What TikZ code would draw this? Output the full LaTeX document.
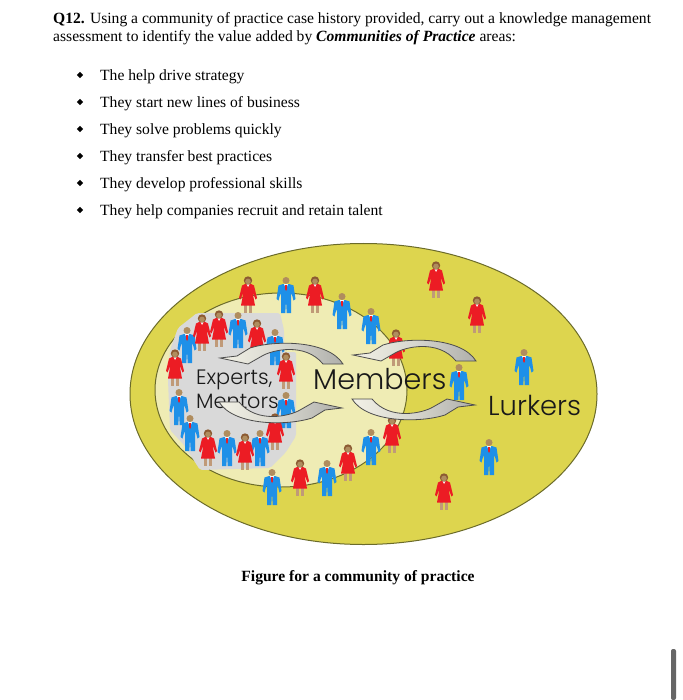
\documentclass[tikz,border=0pt]{standalone}
\usepackage{fontspec}
\usetikzlibrary{shapes.geometric}
\setmainfont{Liberation Serif}
\newfontfamily\gothic{Poppins Light}
\definecolor{outerfill}{HTML}{DDD54E}
\definecolor{innerfill}{HTML}{EFECB4}
\definecolor{ringline}{HTML}{6B6B2A}
\definecolor{graybox}{HTML}{D9D9D9}
\definecolor{manblue}{HTML}{1E90E8}
\definecolor{womanred}{HTML}{EC1C24}
\definecolor{skin}{HTML}{B08D5E}
\definecolor{hair}{HTML}{8C5A32}
\definecolor{legtan}{HTML}{C09A78}
\definecolor{arrowlight}{HTML}{F2F1E6}
\definecolor{arrowdark}{HTML}{AFAFAB}
\tikzset{
  x=1pt,y=-1pt,
  bodytext/.style={anchor=base west,inner sep=0pt,font=\fontsize{15.6}{17}\selectfont},
  bigtext/.style={anchor=base west,inner sep=0pt,text=black!90},
  bulletdot/.style={fill=black,diamond,inner sep=0pt,minimum size=6.5pt},
  flow/.style={draw=black!70,line width=0.8pt,left color=arrowlight,right color=arrowdark,middle color=arrowlight!60!arrowdark},
  man/.pic={
    \fill[manblue] (-3,-11) -- (3,-11) -- (7.5,-9.5) -- (9.5,4) -- (7.5,5.5) -- (5.5,-2) -- (5,1) -- (5,18) -- (0.7,18) -- (0,5) -- (-0.7,18) -- (-5,18) -- (-5,1) -- (-5.5,-2) -- (-7.5,5.5) -- (-9.5,4) -- (-7.5,-9.5) -- cycle;
    \fill[white] (-2,-11) -- (2,-11) -- (0,-6) -- cycle;
    \fill[womanred] (-0.8,-10) -- (0.8,-10) -- (1,-6) -- (0,-4) -- (-1,-6) -- cycle;
    \fill[skin] (0,-14.5) circle (3.5);
  },
  woman/.pic={
    \fill[legtan] (-4,8) rectangle (-1.2,18);
    \fill[legtan] (1.2,8) rectangle (4,18);
    \fill[womanred] (-3,-11) -- (3,-11) -- (6,-9.5) -- (9,3) -- (7.5,4.5) -- (4.5,-3) -- (7,10.5) -- (-7,10.5) -- (-4.5,-3) -- (-7.5,4.5) -- (-9,3) -- (-6,-9.5) -- cycle;
    \fill[white] (-1.5,-11) -- (1.5,-11) -- (0,-8) -- cycle;
    \fill[hair] (0,-14.5) circle (4.2);
    \fill[skin] (0,-13.6) circle (2.8);
  },
  flowarrow/.pic={
    \path[flow] (0,0) -- (28,6) -- (42,-2) .. controls (52,-8) and (85,-16) .. (103,6)
      -- (123,6) .. controls (108,-18) and (55,-18) .. (30,-10) -- (17,-2) -- cycle;
  }
}
\begin{document}
\begin{tikzpicture}
\useasboundingbox (0,0) rectangle (682,700);
\fill[white] (0,0) rectangle (682,700);
% text
\node[bodytext] (q1) at (53,24) {\textbf{Q12.} Using a community of practice case history provided, carry out a knowledge management};
\node[bodytext] (q2) at (53,42) {assessment to identify the value added by \textbf{\textit{Communities of Practice}} areas:};
\foreach \yy/\lbl in {75/The help drive strategy,102/They start new lines of business,129/They solve problems quickly,156/They transfer best practices,183/They develop professional skills,210/They help companies recruit and retain talent}{
  \node[bulletdot] at (80,\yy) {};
  \node[bodytext] at (100,\yy+6) {\lbl};
}
\node[bodytext,anchor=base,font=\fontsize{15.6}{17}\selectfont\bfseries] (cap) at (358,581) {Figure for a community of practice};
% ellipses
\draw[ringline,fill=outerfill,line width=1pt] (363.5,394) ellipse [x radius=233.5,y radius=150.5];
\draw[ringline,fill=innerfill,line width=1pt] (281,390) ellipse [x radius=126,y radius=97];
% core
\fill[graybox,rounded corners=2pt] (197,313) -- (280,313) -- (284,330) -- (284,352) -- (296,352) -- (296,436) -- (286,452) -- (270,468) -- (200,470) -- (184,445) -- (170,430) -- (168,380) -- (170,350) -- (178,328) -- cycle;
% people
\foreach \px/\py in {286/295,342/311,371/326,187/345,238/330,275/347,179/407,286/410,190/433,227/448,260/448,272/487,327/478,371/447,459/382,524/367,489/457}
  \pic at (\px,\py) {man};
\foreach \px/\py in {248/295,315/295,202/333,219/329,257/338,175/368,286/371,275/432,208/448,245/452,300/478,348/463,396/348,392/435,436/280,477/315,444/492}
  \pic at (\px,\py) {woman};
% labels
\node[bigtext,font=\gothic\fontsize{20.8}{24}\selectfont] (exp) at (196,384) {Experts,};
\node[bigtext,font=\gothic\fontsize{20.8}{24}\selectfont] (men) at (196,408) {Mentors};
\node[bigtext,font=\gothic\fontsize{28.6}{32}\selectfont] (mem) at (313,389) {Members};
\node[bigtext,font=\gothic\fontsize{27.4}{30}\selectfont] (lur) at (488,415) {Lurkers};
% flow arrows
\pic at (220,358) {flowarrow};
\pic at (353,355) {flowarrow};
\pic[rotate=180] at (342,408) {flowarrow};
\pic[rotate=180] at (475,405) {flowarrow};
% scrollbar
\fill[black!60,rounded corners=2pt] (671,649) rectangle (676,700);
\end{tikzpicture}
\end{document}
